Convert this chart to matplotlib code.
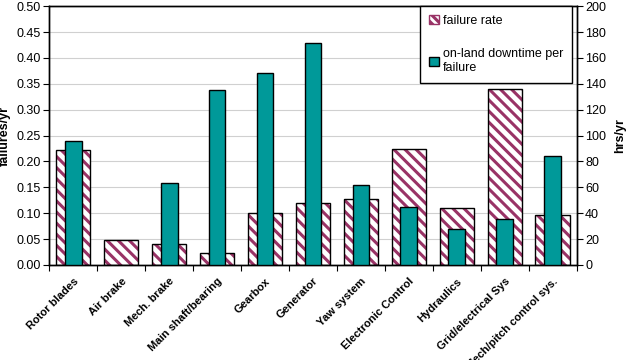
import numpy as np
import matplotlib
matplotlib.use("Agg")
import matplotlib.pyplot as plt
import matplotlib.transforms as mtransforms
from matplotlib.patches import Patch

plt.rcParams['font.family'] = ['Liberation Sans', 'DejaVu Sans']
plt.rcParams['hatch.linewidth'] = 2.2

categories = ['Rotor blades', 'Air brake', 'Mech. brake', 'Main shaft/bearing',
              'Gearbox', 'Generator', 'Yaw system', 'Electronic Control',
              'Hydraulics', 'Grid/electrical Sys', 'Mech/pitch control sys.']
failure_rate = [0.223, 0.048, 0.040, 0.024, 0.100, 0.120, 0.127, 0.224,
                0.110, 0.340, 0.097]
downtime = [96, 0, 63.5, 135, 148.5, 171.5, 61.5, 45, 28, 35.5, 84.5]

maroon = '#993366'
teal = '#009999'

fig = plt.figure(figsize=(6.31, 3.6), dpi=100)
ax = fig.add_axes([0.078, 0.264, 0.836, 0.719])
ax2 = ax.twinx()

x = np.arange(len(categories))

# hatched failure-rate bars: hatch layer, then black outline
ax.bar(x, failure_rate, 0.72, color='white', edgecolor=maroon,
       hatch='\\\\\\', linewidth=0, zorder=2)
ax.bar(x, failure_rate, 0.72, fill=False, edgecolor='black',
       linewidth=1, zorder=3)

# downtime bars on the right axis (skip zero)
mask = np.array(downtime) > 0
ax2.bar(x[mask], np.array(downtime)[mask], 0.35, color=teal,
        edgecolor='black', linewidth=1, zorder=3)

ax.set_xlim(-0.5, len(categories) - 0.5)
ax.set_ylim(0, 0.5)
ax2.set_ylim(0, 200)
ax.set_yticks(np.arange(0, 0.501, 0.05))
ax.set_yticklabels(['%.2f' % v for v in np.arange(0, 0.501, 0.05)], fontsize=9)
ax2.set_yticks(np.arange(0, 201, 20))
ax2.set_yticklabels([str(v) for v in range(0, 201, 20)], fontsize=9)
ax.yaxis.grid(True, color='#d0d0d0', linewidth=0.8, zorder=0)
ax.set_axisbelow(True)

ax.set_xticks(np.arange(-0.5, len(categories), 1.0))
ax.set_xticklabels([])
ax.set_xticks(x, minor=True)
ax.set_xticklabels(categories, minor=True, rotation=45, ha='right', va='top',
                   rotation_mode='anchor', fontsize=8, fontweight='bold')
shift = mtransforms.ScaledTranslation(-0.06, 0, fig.dpi_scale_trans)
for lab in ax.get_xticklabels(minor=True):
    lab.set_transform(lab.get_transform() + shift)
ax.tick_params(axis='x', which='minor', length=0, pad=8)
ax.tick_params(axis='x', which='major', length=4)
ax.tick_params(axis='y', length=4, pad=2)
ax2.tick_params(axis='y', length=4, pad=2)

ax.set_ylabel('failures/yr', fontsize=9, fontweight='bold', labelpad=4)
ax2.set_ylabel('hrs/yr', fontsize=9, fontweight='bold', labelpad=6)

for a in (ax, ax2):
    for s in a.spines.values():
        s.set_linewidth(1)
        s.set_color('black')

handles = [Patch(facecolor='white', edgecolor=maroon, hatch='\\\\\\\\'),
           Patch(facecolor=teal, edgecolor='black')]
leg = ax2.legend(handles, ['failure rate', 'on-land downtime per\nfailure'],
                 loc='upper left', bbox_to_anchor=(0.703, 0.99, 0.288, 0.01),
                 mode='expand', borderaxespad=0, fontsize=9, frameon=True,
                 fancybox=False, edgecolor='black', framealpha=1,
                 handlelength=0.8, handleheight=0.8, handletextpad=0.3,
                 labelspacing=1.7, borderpad=0.7)
leg.get_frame().set_linewidth(1)

fig.savefig('out.png', dpi=100)
